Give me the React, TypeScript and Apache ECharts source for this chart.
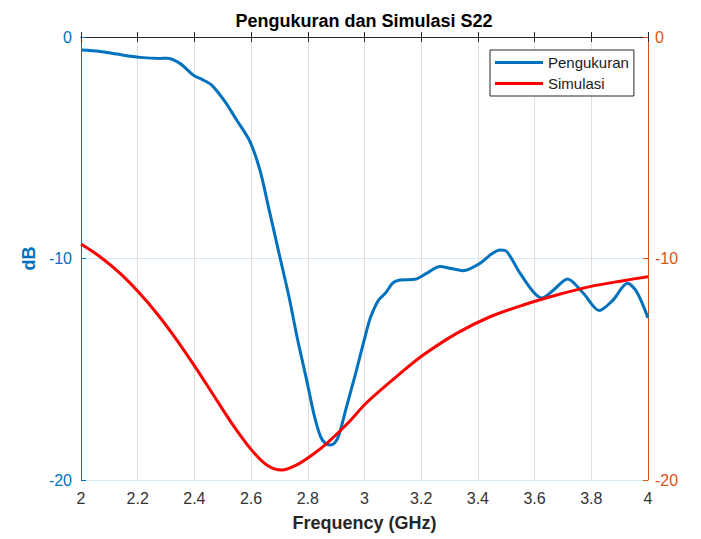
import React, { useEffect, useRef } from "react";
import * as echarts from "echarts";

const titleText = "Pengukuran dan Simulasi S22";
const xLabel = "Frequency (GHz)";
const yLabel = "dB";
const seriesNames = ["Pengukuran", "Simulasi"];

// Pengukuran (measured) – frequency GHz, dB
const measFreq = [
  2.0, 2.067, 2.126, 2.208, 2.279, 2.302, 2.349, 2.396, 2.431, 2.461, 2.508, 2.549,
  2.596, 2.631, 2.661, 2.70, 2.734, 2.763, 2.796, 2.823, 2.845, 2.862, 2.878, 2.893,
  2.908, 2.937, 2.972, 3.008, 3.022, 3.05, 3.075, 3.1, 3.125, 3.178, 3.219, 3.266,
  3.305, 3.348, 3.407, 3.448, 3.478, 3.502, 3.549, 3.595, 3.625, 3.667, 3.716, 3.772,
  3.828, 3.875, 3.928, 3.96, 4.0,
];
const measDb = [
  -0.59, -0.65, -0.77, -0.92, -0.97, -0.96, -1.19, -1.72, -1.94, -2.17, -2.92, -3.75,
  -4.72, -6.0, -7.66, -9.85, -11.75, -13.6, -15.49, -17.1, -18.04, -18.35, -18.42, -18.35,
  -18.04, -16.68, -15.03, -13.23, -12.63, -11.87, -11.55, -11.1, -10.97, -10.94, -10.67, -10.36,
  -10.45, -10.55, -10.22, -9.8, -9.62, -9.69, -10.67, -11.5, -11.78, -11.42, -10.92, -11.57,
  -12.35, -11.9, -11.12, -11.5, -12.68,
];

// Simulasi (simulated) – frequency GHz, dB
const simFreq = [
  2.0, 2.067, 2.138, 2.202, 2.267, 2.338, 2.402, 2.467, 2.532, 2.602, 2.655, 2.708,
  2.761, 2.82, 2.867, 2.94, 3.008, 3.125, 3.207, 3.325, 3.443, 3.56, 3.678, 3.795,
  3.913, 4.0,
];
const simDb = [
  -9.35, -9.92, -10.67, -11.5, -12.47, -13.68, -14.88, -16.16, -17.44, -18.65, -19.32, -19.55,
  -19.32, -18.83, -18.35, -17.45, -16.5, -15.2, -14.36, -13.38, -12.63, -12.1, -11.65, -11.27,
  -11.0, -10.82,
];

const xMin = 2;
const xMax = 4;
const xStep = 0.2;
const yMin = -20;
const yMax = 0;
const yStep = 10;

const BLUE = "#0072BD";
const ORANGE = "#D95319";
const AXIS = "#262626";
const FONT = "Liberation Sans, Arial, Helvetica, sans-serif";

export default function App() {
  const ref = useRef<HTMLDivElement>(null);
  useEffect(() => {
    if (!ref.current) return;
    const chart = echarts.init(ref.current, null, { renderer: "svg" });
    const fmt = (v: number) => String(+v.toFixed(1));
    chart.setOption({
      animation: false,
      backgroundColor: "#ffffff",
      textStyle: { fontFamily: FONT },
      title: {
        text: titleText,
        left: 364,
        top: 12,
        textAlign: "center",
        padding: 0,
        textStyle: { fontSize: 18, fontWeight: "bold", color: "#000", fontFamily: FONT },
      },
      legend: {
        orient: "vertical",
        left: 490,
        top: 50,
        padding: [5, 5, 5, 5],
        itemGap: 6,
        itemWidth: 48,
        itemHeight: 3,
        icon: "rect",
        borderColor: AXIS,
        borderWidth: 1,
        borderRadius: 0,
        backgroundColor: "#fff",
        textStyle: { fontSize: 15, color: "#1a1a1a", fontFamily: FONT, lineHeight: 15 },
        data: seriesNames,
      },
      grid: { left: 81, right: 53, top: 37, bottom: 59, containLabel: false },
      xAxis: [
        {
          type: "value",
          min: xMin,
          max: xMax,
          interval: xStep,
          position: "bottom",
          name: xLabel,
          nameLocation: "middle",
          nameGap: 34,
          nameTextStyle: { fontSize: 18, fontWeight: "bold", color: AXIS, fontFamily: FONT },
          axisLine: { show: true, lineStyle: { color: AXIS, width: 1 } },
          axisTick: { show: true, inside: true, length: 5, lineStyle: { color: AXIS } },
          axisLabel: { fontSize: 16, color: "#333", margin: 10, formatter: fmt, fontFamily: FONT },
          splitLine: { show: true, lineStyle: { color: "#dedede", width: 1 } },
        },
        {
          type: "value",
          min: xMin,
          max: xMax,
          interval: xStep,
          position: "top",
          axisLine: { show: true, lineStyle: { color: AXIS, width: 1 } },
          axisTick: { show: true, inside: true, length: 5, lineStyle: { color: AXIS } },
          axisLabel: { show: false },
          splitLine: { show: false },
        },
      ],
      yAxis: [
        {
          type: "value",
          min: yMin,
          max: yMax,
          interval: yStep,
          position: "left",
          name: yLabel,
          nameLocation: "middle",
          nameRotate: 90,
          nameGap: 39,
          nameTextStyle: { fontSize: 18, fontWeight: "bold", color: BLUE, fontFamily: FONT },
          axisLine: { show: true, lineStyle: { color: BLUE, width: 1 } },
          axisTick: { show: true, inside: true, length: 5, lineStyle: { color: BLUE } },
          axisLabel: { fontSize: 16, color: BLUE, margin: 9, fontFamily: FONT },
          splitLine: { show: true, lineStyle: { color: "#d6e7f3", width: 1 } },
        },
        {
          type: "value",
          min: yMin,
          max: yMax,
          interval: yStep,
          position: "right",
          axisLine: { show: true, lineStyle: { color: ORANGE, width: 1 } },
          axisTick: { show: true, inside: true, length: 5, lineStyle: { color: ORANGE } },
          axisLabel: { fontSize: 16, color: ORANGE, margin: 7, fontFamily: FONT },
          splitLine: { show: false },
        },
      ],
      series: [
        {
          name: seriesNames[0],
          type: "line",
          xAxisIndex: 0,
          yAxisIndex: 0,
          data: measFreq.map((f, i) => [f, measDb[i]]),
          symbol: "none",
          smooth: 0.3,
          lineStyle: { color: BLUE, width: 3 },
          itemStyle: { color: BLUE },
          z: 3,
        },
        {
          name: seriesNames[1],
          type: "line",
          xAxisIndex: 0,
          yAxisIndex: 1,
          data: simFreq.map((f, i) => [f, simDb[i]]),
          symbol: "none",
          smooth: 0.3,
          lineStyle: { color: "#FF0000", width: 3 },
          itemStyle: { color: "#FF0000" },
          z: 4,
        },
      ],
    });
    return () => chart.dispose();
  }, []);
  return (
    <div
      ref={ref}
      style={{ position: "absolute", left: 0, top: 0, width: 701, height: 539 }}
    />
  );
}
